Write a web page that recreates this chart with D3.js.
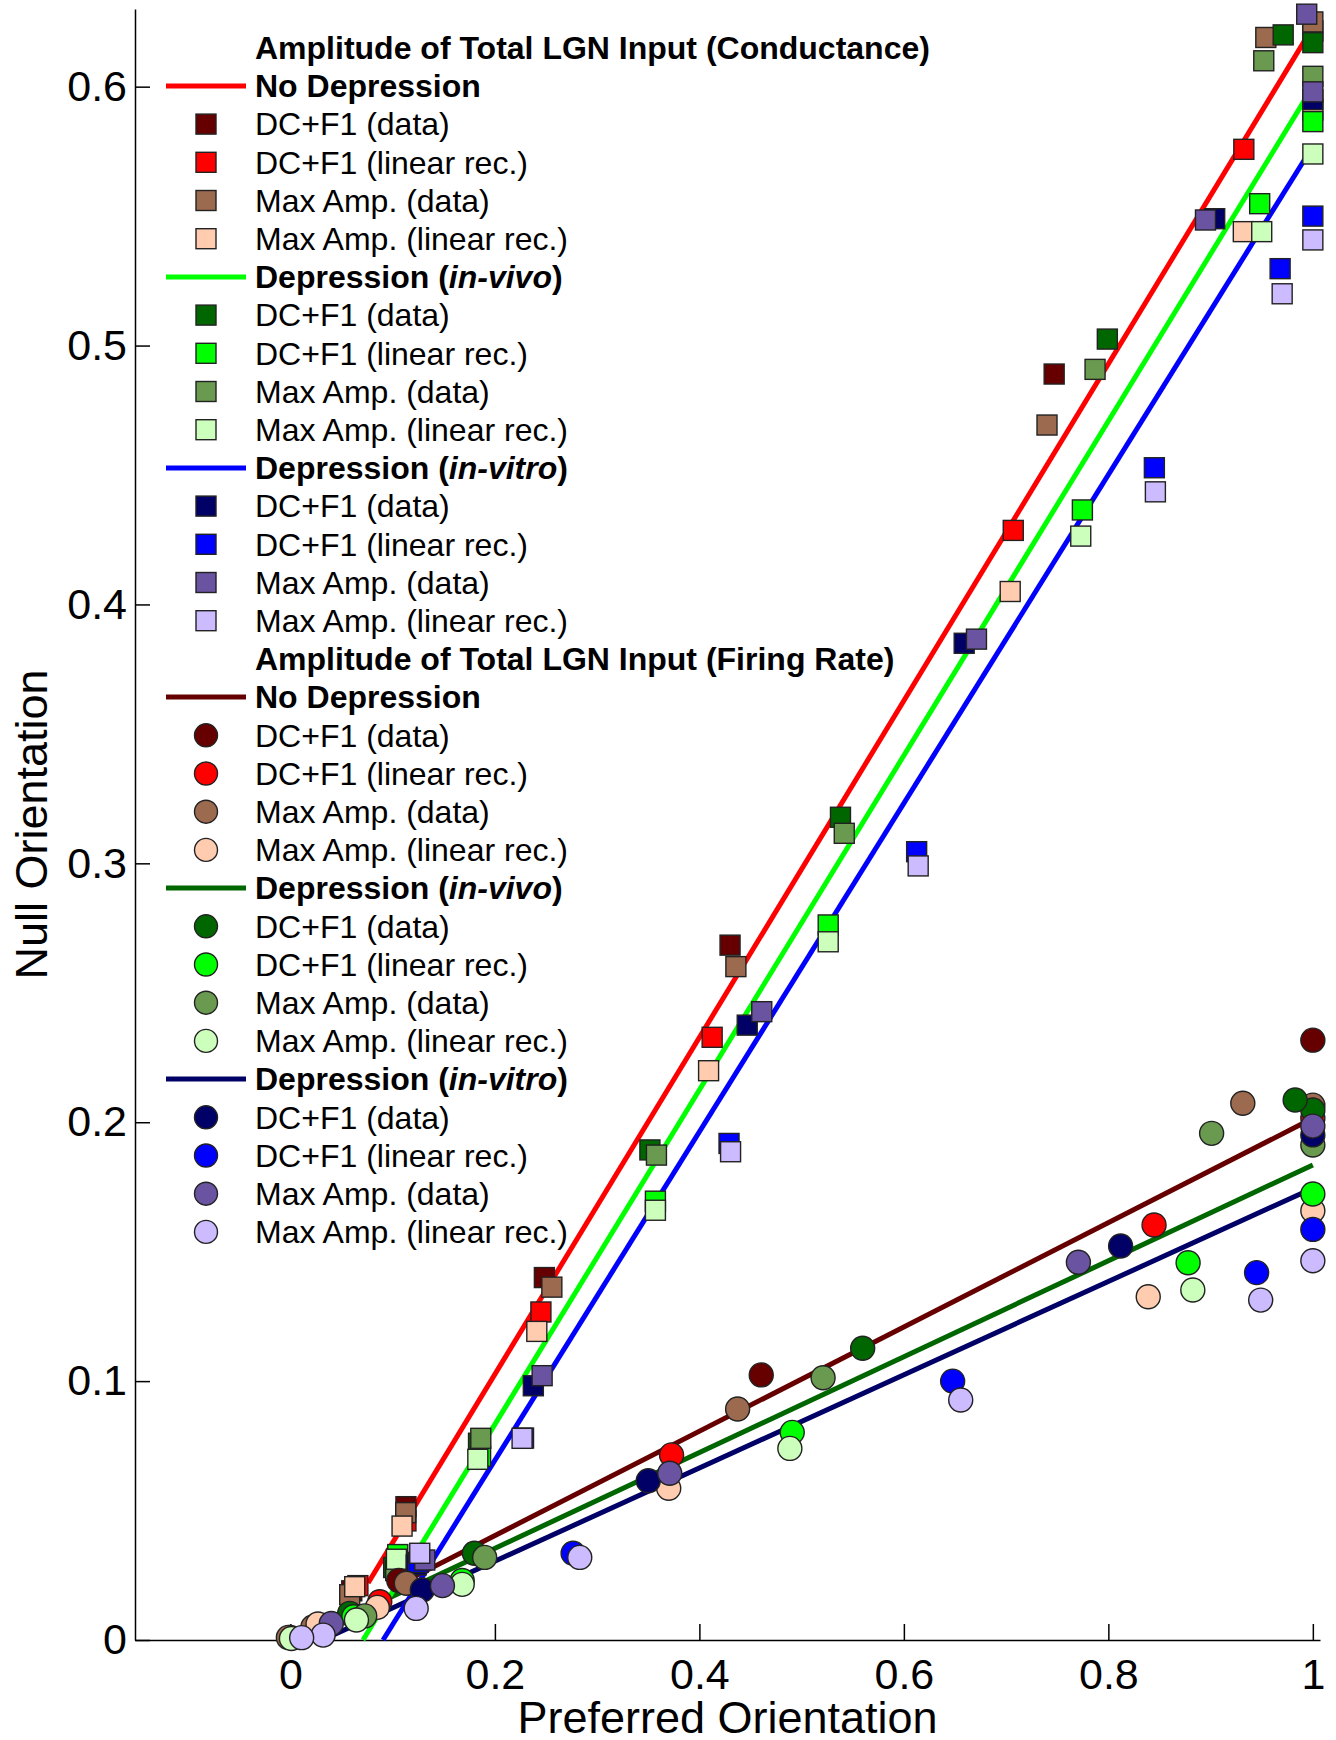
<!DOCTYPE html>
<html>
<head>
<meta charset="utf-8">
<script src="https://cdn.jsdelivr.net/npm/d3@7"></script>
<style>
  body { margin: 0; background: #fff; }
  svg { display: block; font-family: "Liberation Sans", Arial, Helvetica, sans-serif; }
</style>
</head>
<body>
<svg id="chart" width="1336" height="1740"></svg>
<script>
'use strict';

/**** Data (preferred orientation, null orientation) ****/

// Conductance - no depression
var gNoDepDcData  = [[1.0, 0.6215], [0.747, 0.489], [0.430, 0.2684], [0.2484, 0.140], [0.113, 0.0515], [0.060, 0.019]];
var gNoDepDcLin   = [[0.9325, 0.5758], [0.707, 0.4286], [0.4125, 0.2328], [0.245, 0.1267], [0.113, 0.046], [0.066, 0.021]];
var gNoDepMaxData = [[1.0, 0.625], [0.954, 0.619], [0.740, 0.4693], [0.4357, 0.2601], [0.2557, 0.1363], [0.1128, 0.0492], [0.058, 0.0175]];
var gNoDepMaxLin  = [[1.0, 0.591], [0.932, 0.544], [0.704, 0.405], [0.409, 0.2199], [0.241, 0.1192], [0.1092, 0.044], [0.0629, 0.0206]];
// Conductance - depression in-vivo
var gVivoDcData  = [[1.0, 0.617], [0.971, 0.620], [0.799, 0.5025], [0.538, 0.3178], [0.3516, 0.1893], [0.184, 0.076], [0.101, 0.028]];
var gVivoDcLin   = [[1.0, 0.5865], [0.948, 0.5548], [0.7746, 0.4365], [0.526, 0.2762], [0.357, 0.1695], [0.186, 0.071], [0.105, 0.033]];
var gVivoMaxData = [[1.0, 0.604], [0.952, 0.610], [0.787, 0.4908], [0.5417, 0.3116], [0.358, 0.1873], [0.1862, 0.0779], [0.103, 0.0268]];
var gVivoMaxLin  = [[1.0, 0.574], [0.950, 0.544], [0.773, 0.4264], [0.526, 0.2697], [0.357, 0.166], [0.1833, 0.0698], [0.1037, 0.0312]];
// Conductance - depression in-vitro
var gVitroDcData  = [[1.0, 0.595], [0.904, 0.549], [0.659, 0.385], [0.4468, 0.2375], [0.2376, 0.0982], [0.123, 0.029]];
var gVitroDcLin   = [[1.0, 0.550], [0.968, 0.5297], [0.845, 0.4528], [0.6125, 0.3045], [0.429, 0.1918], [0.228, 0.078], [0.125, 0.030]];
var gVitroMaxData = [[0.994, 0.628], [1.0, 0.598], [0.895, 0.5485], [0.671, 0.3866], [0.461, 0.2427], [0.2462, 0.1021], [0.1314, 0.0309]];
var gVitroMaxLin  = [[1.0, 0.5408], [0.970, 0.520], [0.846, 0.4435], [0.614, 0.299], [0.4305, 0.1886], [0.2266, 0.0779], [0.1265, 0.0335]];

// Firing rate - no depression
var rNoDepDcData  = [[1.0, 0.2317], [0.4605, 0.1024], [0.106, 0.023], [0.0, 0.001]];
var rNoDepDcLin   = [[1.0, 0.2015], [0.8447, 0.1603], [0.3728, 0.0715], [0.0874, 0.0148]];
var rNoDepMaxData = [[1.0, 0.2066], [0.9315, 0.2073], [0.4374, 0.0892], [0.1134, 0.0219], [0.022, 0.005], [-0.002, 0.001]];
var rNoDepMaxLin  = [[1.0, 0.1658], [0.839, 0.1326], [0.370, 0.0586], [0.085, 0.0126], [0.027, 0.0062]];
// Firing rate - depression in-vivo
var rVivoDcData  = [[1.0, 0.2047], [0.9827, 0.2086], [0.5597, 0.1127], [0.180, 0.0335], [0.058, 0.0103]];
var rVivoDcLin   = [[1.0, 0.1723], [0.878, 0.1457], [0.4908, 0.0802], [0.168, 0.023], [0.062, 0.009]];
var rVivoMaxData = [[1.0, 0.1912], [0.901, 0.1957], [0.521, 0.1013], [0.190, 0.0319], [0.0727, 0.0093]];
var rVivoMaxLin  = [[0.8826, 0.1352], [0.4885, 0.074], [0.168, 0.0215], [0.0646, 0.0077], [0.001, 0.0006]];
// Firing rate - depression in-vitro
var rVitroDcData  = [[1.0, 0.1951], [0.812, 0.1522], [0.350, 0.0615], [0.129, 0.0193]];
var rVitroDcLin   = [[1.0, 0.1586], [0.945, 0.1419], [0.6477, 0.100], [0.2765, 0.0335]];
var rVitroMaxData = [[1.0, 0.1985], [0.7707, 0.1459], [0.371, 0.0644], [0.1487, 0.021], [0.040, 0.0064]];
var rVitroMaxLin  = [[1.0, 0.1465], [0.949, 0.1313], [0.6556, 0.0927], [0.283, 0.0319], [0.123, 0.0122], [0.032, 0.0019], [0.011, 0.0009]];

// Linear fits (start and end points)
var gNoDepFit = [[0.076, 0.022], [1.0, 0.623]];
var gVivoFit  = [[0.071, 0.0], [1.0, 0.600]];
var gVitroFit = [[0.0906, 0.0], [1.0, 0.577]];
var rNoDepFit = [[0.105, 0.0212], [1.0, 0.2015]];
var rVivoFit  = [[0.058, 0.0091], [1.0, 0.1835]];
var rVitroFit = [[0.035, 0.0007], [1.0, 0.1745]];

// Labels and ticks
var panelTitles = ['Amplitude of Total LGN Input (Conductance)', 'Amplitude of Total LGN Input (Firing Rate)'];
var modelNames = ['No Depression', 'Depression', 'Depression'];
var modelQualifiers = [null, 'in-vivo', 'in-vitro'];
var measureNames = ['DC+F1 (data)', 'DC+F1 (linear rec.)', 'Max Amp. (data)', 'Max Amp. (linear rec.)'];
var xTicks = [0, 0.2, 0.4, 0.6, 0.8, 1];
var yTicks = [0, 0.1, 0.2, 0.3, 0.4, 0.5, 0.6];
var xLabel = 'Preferred Orientation';
var yLabel = 'Null Orientation';

/**** Styles ****/
var markerColors = [
    ['#660000', '#ff0000', '#9c6a4f', '#ffccb0'],
    ['#006600', '#00ff00', '#6a9a50', '#ccffbb'],
    ['#000066', '#0000ff', '#6a53a0', '#ccbbff']
];
var condLineColors = ['#ff0000', '#00ff00', '#0000ff'];
var rateLineColors = ['#660000', '#006600', '#000066'];

var condSeries = [
    [gNoDepDcData, gNoDepDcLin, gNoDepMaxData, gNoDepMaxLin],
    [gVivoDcData, gVivoDcLin, gVivoMaxData, gVivoMaxLin],
    [gVitroDcData, gVitroDcLin, gVitroMaxData, gVitroMaxLin]
];
var rateSeries = [
    [rNoDepDcData, rNoDepDcLin, rNoDepMaxData, rNoDepMaxLin],
    [rVivoDcData, rVivoDcLin, rVivoMaxData, rVivoMaxLin],
    [rVitroDcData, rVitroDcLin, rVitroMaxData, rVitroMaxLin]
];
var condFits = [gNoDepFit, gVivoFit, gVitroFit];
var rateFits = [rNoDepFit, rVivoFit, rVitroFit];

/**** Layout ****/
var margin = {left: 135, top: 9, right: 16, bottom: 100};
var width = 1336, height = 1740;
var svg = d3.select('#chart');

var x = d3.scaleLinear().domain([-0.152, 1.007]).range([margin.left, width - margin.right]);
var y = d3.scaleLinear().domain([0, 0.63]).range([height - margin.bottom, margin.top]);

var fmt = function(d) { return String(+d.toFixed(1)); };

//Axes (ticks point inward)
var xAxis = svg.append('g')
    .attr('transform', 'translate(0,' + y(0) + ')')
    .call(d3.axisBottom(x).tickValues(xTicks).tickFormat(fmt).tickSizeInner(-16).tickSizeOuter(0).tickPadding(18));
var yAxis = svg.append('g')
    .attr('transform', 'translate(' + x.range()[0] + ',0)')
    .call(d3.axisLeft(y).tickValues(yTicks).tickFormat(fmt).tickSizeInner(-15).tickSizeOuter(0).tickPadding(8));

[xAxis, yAxis].forEach(function(a) {
    a.select('.domain').attr('stroke', '#000').attr('stroke-width', 1.5);
    a.selectAll('.tick line').attr('stroke', '#000').attr('stroke-width', 1.5);
    a.selectAll('.tick text').attr('font-size', 43).attr('fill', '#000')
        .attr('font-family', '"Liberation Sans", Arial, sans-serif');
});

//Axis titles
svg.append('text')
    .attr('x', (x.range()[0] + x.range()[1]) / 2)
    .attr('y', 1733)
    .attr('text-anchor', 'middle')
    .attr('font-size', 45)
    .text(xLabel);
svg.append('text')
    .attr('transform', 'translate(47,' + (y.range()[0] + y.range()[1]) / 2 + ') rotate(-90)')
    .attr('text-anchor', 'middle')
    .attr('font-size', 45)
    .text(yLabel);

/**** Fit lines ****/
var lineGen = d3.line().x(function(d) { return x(d[0]); }).y(function(d) { return y(d[1]); });
var linesGroup = svg.append('g').attr('id', 'linesGroup');
rateFits.forEach(function(f, m) {
    linesGroup.append('path').attr('d', lineGen(f))
        .attr('fill', 'none').attr('stroke', rateLineColors[m]).attr('stroke-width', 5);
});
condFits.forEach(function(f, m) {
    linesGroup.append('path').attr('d', lineGen(f))
        .attr('fill', 'none').attr('stroke', condLineColors[m]).attr('stroke-width', 5);
});

/**** Markers ****/
var sq = 20, rad = 12;
var squaresGroup = svg.append('g').attr('id', 'squaresGroup');
condSeries.forEach(function(model, m) {
    model.forEach(function(pts, k) {
        squaresGroup.selectAll(null).data(pts).enter()
            .append('rect')
            .attr('x', function(d) { return x(d[0]) - sq / 2; })
            .attr('y', function(d) { return y(d[1]) - sq / 2; })
            .attr('width', sq).attr('height', sq)
            .attr('fill', markerColors[m][k])
            .attr('stroke', '#222').attr('stroke-width', 1.4);
    });
});
var circlesGroup = svg.append('g').attr('id', 'circlesGroup');
rateSeries.forEach(function(model, m) {
    model.forEach(function(pts, k) {
        circlesGroup.selectAll(null).data(pts).enter()
            .append('circle')
            .attr('cx', function(d) { return x(d[0]); })
            .attr('cy', function(d) { return y(d[1]); })
            .attr('r', rad)
            .attr('fill', markerColors[m][k])
            .attr('stroke', '#222').attr('stroke-width', 1.4);
    });
});

/**** Legend ****/
var legend = svg.append('g').attr('id', 'legendGroup');
var rowY = function(i) { return 47.7 + i * 38.2; };
var textX = 255, markX = 206, lineX1 = 166, lineX2 = 246;
var legendFont = 32;

panelTitles.forEach(function(title, p) {
    var base = p * 16;
    var fits = p === 0 ? condLineColors : rateLineColors;
    legend.append('text').attr('x', textX).attr('y', rowY(base)).attr('dy', '0.35em')
        .attr('font-size', legendFont).attr('font-weight', 'bold').text(title);
    modelNames.forEach(function(name, m) {
        var r = base + 1 + m * 5;
        legend.append('line')
            .attr('x1', lineX1).attr('x2', lineX2).attr('y1', rowY(r)).attr('y2', rowY(r))
            .attr('stroke', fits[m]).attr('stroke-width', 5);
        var t = legend.append('text').attr('x', textX).attr('y', rowY(r)).attr('dy', '0.35em')
            .attr('font-size', legendFont).attr('font-weight', 'bold');
        if (modelQualifiers[m]) {
            t.append('tspan').text(name + ' (');
            t.append('tspan').attr('font-style', 'italic').text(modelQualifiers[m]);
            t.append('tspan').text(')');
        } else {
            t.text(name);
        }
        measureNames.forEach(function(label, k) {
            var ry = rowY(r + 1 + k);
            if (p === 0) {
                legend.append('rect')
                    .attr('x', markX - sq / 2).attr('y', ry - sq / 2)
                    .attr('width', sq).attr('height', sq)
                    .attr('fill', markerColors[m][k]).attr('stroke', '#222').attr('stroke-width', 1.4);
            } else {
                legend.append('circle')
                    .attr('cx', markX).attr('cy', ry).attr('r', 11.5)
                    .attr('fill', markerColors[m][k]).attr('stroke', '#222').attr('stroke-width', 1.4);
            }
            legend.append('text').attr('x', textX).attr('y', ry).attr('dy', '0.35em')
                .attr('font-size', legendFont).text(label);
        });
    });
});
</script>
</body>
</html>
